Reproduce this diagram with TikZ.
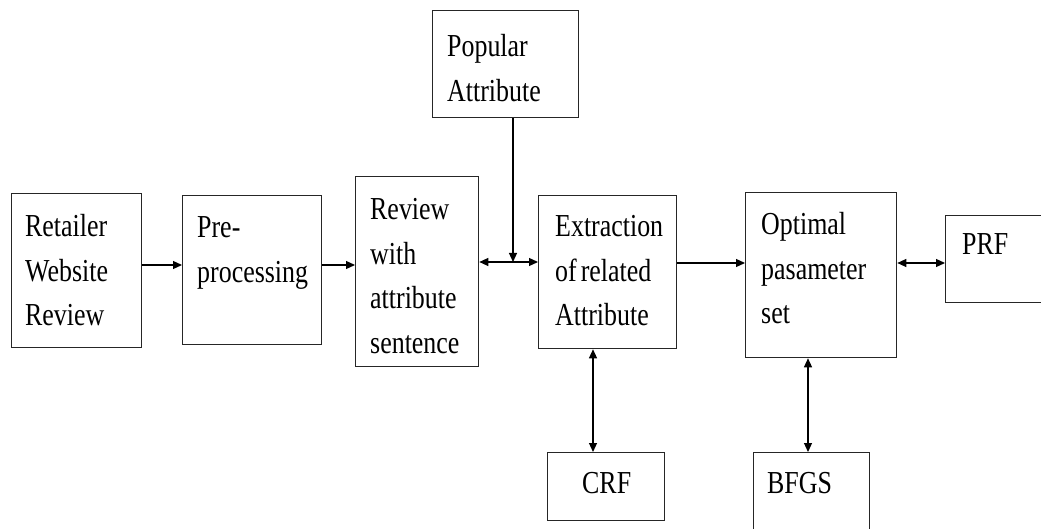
\documentclass[tikz,border=0pt]{standalone}
\usepackage{fontspec}
\setmainfont[FakeStretch=0.81]{Liberation Serif}
\usetikzlibrary{arrows.meta}
\begin{document}
\begin{tikzpicture}[x=1pt,y=-1pt,
  box/.style={draw=black!85, line width=1.3pt, anchor=north west, inner sep=0pt},
  txt/.style={anchor=base west, inner sep=0pt, text width=160pt, align=left,
    font=\fontsize{32}{44.5}\selectfont, text=black},
  arr/.style={line width=1.2pt, -{Triangle[length=9pt,width=8pt]}},
  darr/.style={line width=1.2pt, {Triangle[length=9pt,width=8pt]}-{Triangle[length=9pt,width=8pt]}}]
\useasboundingbox (0,0) rectangle (1041,529);
\clip (0,0) rectangle (1041,529);
% boxes
\node[box, minimum width=130pt, minimum height=154pt] (ret) at (11,193) {};
\node[box, minimum width=139pt, minimum height=149pt] (pre) at (182,195) {};
\node[box, minimum width=123pt, minimum height=190pt] (rev) at (355,176) {};
\node[box, minimum width=146pt, minimum height=107pt] (pop) at (432,10) {};
\node[box, minimum width=138pt, minimum height=153pt] (ext) at (538,195) {};
\node[box, minimum width=151pt, minimum height=165pt] (opt) at (745,192) {};
\node[box, minimum width=110pt, minimum height=87pt] (prf) at (945,215) {};
\node[box, minimum width=117pt, minimum height=68pt] (crf) at (547,452) {};
\node[box, minimum width=116pt, minimum height=90pt] (bfgs) at (753,452) {};
% texts
\node[txt] (tret) at (25,237) {Retailer\\Website\\Review};
\node[txt] (tpre) at (197,238) {Pre-\\processing};
\node[txt] (trev) at (370,220) {Review\\with\\attribute\\sentence};
\node[txt] (tpop) at (447,57) {Popular\\Attribute};
\node[txt] (text) at (555,237) {Extraction\\of\hspace{4pt}related\\Attribute};
\node[txt] (topt) at (761,235) {Optimal\\pasameter\\set};
\node[txt] (tprf) at (962,255) {PRF};
\node[txt] (tcrf) at (582,493) {CRF};
\node[txt] (tbfgs) at (767,493) {BFGS};
% connector levels
\coordinate (y1) at (0,265);
\coordinate (y2) at (0,262);
\coordinate (y3) at (0,263);
\coordinate (j) at (513,262);
\coordinate (xc) at (593,0);
\coordinate (xb) at (808,0);
% connectors
\draw[arr] (ret.east |- y1) -- (pre.west |- y1);
\draw[arr] (pre.east |- y1) -- (rev.west |- y1);
\draw[darr] (rev.east |- y2) -- (ext.west |- y2);
\draw[arr] (pop.south -| j) -- (j);
\draw[arr] (ext.east |- y3) -- (opt.west |- y3);
\draw[darr] (opt.east |- y3) -- (prf.west |- y3);
\draw[darr] (ext.south -| xc) -- (crf.north -| xc);
\draw[darr] (opt.south -| xb) -- (bfgs.north -| xb);
\end{tikzpicture}
\end{document}
